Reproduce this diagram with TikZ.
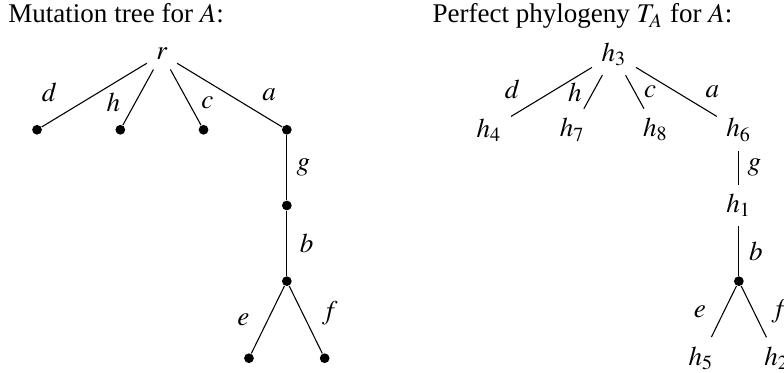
\documentclass[tikz,border=0pt]{standalone}
\usepackage{mathptmx}
\usepackage{fontspec}
\setmainfont{Liberation Serif}
\usetikzlibrary{positioning}

\begin{document}
\begin{tikzpicture}[
  dot/.style={circle, fill, inner sep=0pt, minimum size=3.6pt},
  lab/.style={inner sep=1pt},
  ttl/.style={anchor=base west, inner sep=0pt},
  node distance=28pt and 15.4pt, on grid
]
\useasboundingbox (-59.9pt,-117.7pt) rectangle (230.1pt,20pt);

% ---------- left: mutation tree ----------
\node[ttl] (ttlm) at (-57pt,11.5pt) {Mutation tree for $A$:};
\node (r) {$r$};
\node[dot, below left=28pt and 46.2pt of r]  (md) {};
\node[dot, below left=28pt and 15.4pt of r]  (mh) {};
\node[dot, below right=28pt and 15.4pt of r] (mc) {};
\node[dot, below right=28pt and 46.2pt of r] (ma) {};
\node[dot, below=of ma] (mg) {};
\node[dot, below=of mg] (mb) {};
\node[dot, below left=28.5pt and 14pt of mb]  (me) {};
\node[dot, below right=28.5pt and 14pt of mb] (mf) {};

\draw (r) -- node[lab, pos=.45, left=14.6pt] {$d$} (md);
\draw (r) -- node[lab, pos=.6, left=4.3pt] {$h$} (mh);
\draw (r) -- node[lab, pos=.6, right=3.5pt] {$c$} (mc);
\draw (r) -- node[lab, right=10.9pt] {$a$} (ma);
\draw (ma) -- node[lab, right=2.4pt] {$g$} (mg);
\draw (mg) -- node[lab, right=3.6pt] {$b$} (mb);
\draw (mb) -- node[lab, left=5.7pt] {$e$} (me);
\draw (mb) -- node[lab, pos=.4, right=6.1pt] {$f$} (mf);

% ---------- right: perfect phylogeny ----------
\node[ttl] (ttlp) at (99.9pt,11.5pt) {Perfect phylogeny $T_A$ for $A$:};
\node[right=167.2pt of r] (h3) {$h_3$};
\node[below left=28pt and 46.2pt of h3]  (h4) {$h_4$};
\node[below left=28pt and 15.4pt of h3]  (h7) {$h_7$};
\node[below right=28pt and 15.4pt of h3] (h8) {$h_8$};
\node[below right=28pt and 46.2pt of h3] (h6) {$h_6$};
\node[below=of h6] (h1) {$h_1$};
\node[dot, below=of h1] (pb) {};
\node[below left=28.5pt and 14pt of pb]  (h5) {$h_5$};
\node[below right=28.5pt and 14pt of pb] (h2) {$h_2$};

\draw (h3) -- node[lab, pos=.45, left=12pt] {$d$} (h4);
\draw (h3) -- node[lab, left=3pt] {$h$} (h7);
\draw (h3) -- node[lab, right=2.3pt] {$c$} (h8);
\draw (h3) -- node[lab, right=9.6pt] {$a$} (h6);
\draw (h6) -- node[lab, right=2pt] {$g$} (h1);
\draw (h1) -- node[lab, right=2.6pt] {$b$} (pb);
\draw (pb) -- node[lab, left=5.5pt] {$e$} (h5);
\draw (pb) -- node[lab, right=5.4pt] {$f$} (h2);

\end{tikzpicture}
\end{document}
